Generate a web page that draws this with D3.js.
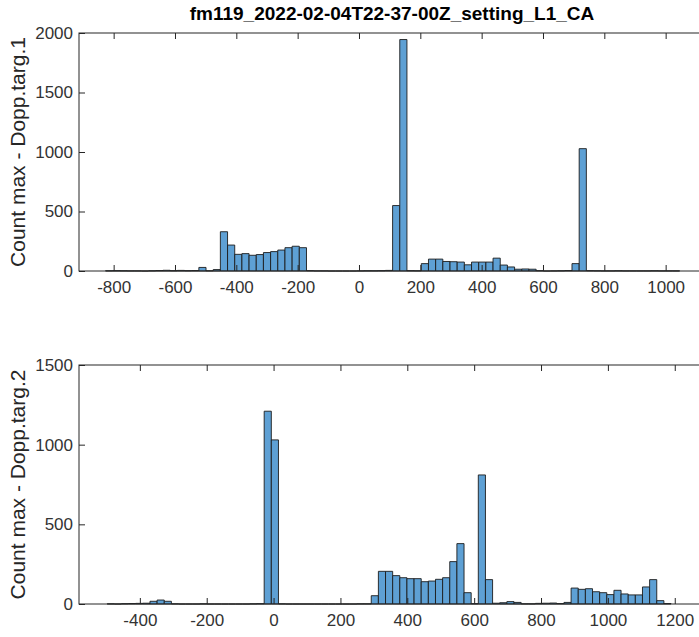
<!DOCTYPE html>
<html>
<head>
<meta charset="utf-8">
<script src="https://cdn.jsdelivr.net/npm/d3@7"></script>
<style>
  body { margin: 0; background: #fff; }
  svg { display: block; font-family: "Liberation Sans", Arial, Helvetica, sans-serif; }
</style>
</head>
<body>
<div id="chart"></div>
<script>
// histogram 1 : bins start + width, counts
const binStart1 = -826.4;
const binWidth1 = 23.4;
const counts1 = [
  2, 3, 2, 1, 1, 0, 2, 4, 6, 3, 5, 3, 4, 30, 2, 12,
  330, 218, 140, 146, 132, 138, 155, 163, 176, 196, 208, 196,
  3, 1, 1, 0, 0, 0, 0, 1, 2, 2, 3, 5,
  550, 1945, 3, 2,
  62, 100, 100, 80, 78, 75, 52, 75, 75, 75, 108, 50, 34, 15, 17, 15,
  3, 0, 1, 2, 4,
  62, 1028, 3,
  2, 1, 1, 2, 1, 1, 1, 1, 2, 1, 1, 1
];
const xTicks1 = [-800, -600, -400, -200, 0, 200, 400, 600, 800, 1000];
const yTicks1 = [0, 500, 1000, 1500, 2000];

// histogram 2
const binStart2 = -497.8;
const binWidth2 = 21.35;
const counts2 = [
  1, 0, 2,
  3, 4, 5, 17, 25, 17,
  1, 0, 0, 0, 1, 0, 0, 0, 0, 0, 0, 1, 2,
  1210, 1030,
  1, 0, 0, 0, 0, 0, 0, 0, 0, 0, 0, 1, 1,
  52, 205, 205, 178, 165, 159, 159, 140, 144, 155, 165, 266, 379, 71, 2, 810, 153,
  5, 8, 15, 10, 1, 1, 4, 5, 6, 3, 10,
  100, 92, 96, 77, 71, 59, 86, 63, 57, 57, 107, 153, 21, 3
];
const xTicks2 = [-400, -200, 0, 200, 400, 600, 800, 1000, 1200];
const yTicks2 = [0, 500, 1000, 1500];

const titleText = "fm119_2022-02-04T22-37-00Z_setting_L1_CA";
const yLabel1 = "Count max - Dopp.targ.1";
const yLabel2 = "Count max - Dopp.targ.2";

const W = 699, H = 637;
const axisColor = "#262626";
const barFill = "rgb(94,160,212)";

const svg = d3.select("#chart").append("svg")
  .attr("width", W).attr("height", H);

svg.append("text")
  .attr("x", 392).attr("y", 20)
  .attr("text-anchor", "middle")
  .attr("font-weight", "bold")
  .attr("font-size", "19px")
  .attr("fill", "#000")
  .text(titleText);

function drawPanel(cfg){
  const g = svg.append("g");
  const x = d3.scaleLinear().domain(cfg.xDomain).range([cfg.left, cfg.right]);
  const y = d3.scaleLinear().domain(cfg.yDomain).range([cfg.bottom, cfg.top]);

  const bins = cfg.counts.map((c, i) => ({
    x0: cfg.binStart + i * cfg.binWidth,
    x1: cfg.binStart + (i + 1) * cfg.binWidth,
    count: c
  }));

  g.selectAll("path.bar")
    .data(bins)
    .enter()
    .append("path")
      .attr("class", "bar")
      .attr("d", d => {
        const a = x(d.x0), b = x(d.x1), y0 = y(0), y1 = y(d.count);
        return "M" + a + "," + y0 + "V" + y1 + "H" + b + "V" + y0 + "Z";
      })
      .attr("fill", barFill)
      .attr("stroke", "#1c1c1c")
      .attr("stroke-width", 0.9);

  // box
  g.append("rect")
    .attr("x", cfg.left).attr("y", cfg.top)
    .attr("width", cfg.right - cfg.left).attr("height", cfg.bottom - cfg.top)
    .attr("fill", "none")
    .attr("stroke", axisColor)
    .attr("stroke-width", 1);

  const fmt = d => String(d);
  const xb = g.append("g")
    .attr("transform", "translate(0," + cfg.bottom + ")")
    .call(d3.axisBottom(x).tickValues(cfg.xTicks).tickSize(-6).tickPadding(10).tickFormat(fmt));
  const xt = g.append("g")
    .attr("transform", "translate(0," + cfg.top + ")")
    .call(d3.axisTop(x).tickValues(cfg.xTicks).tickSize(-6).tickFormat(""));
  const yl = g.append("g")
    .attr("transform", "translate(" + cfg.left + ",0)")
    .call(d3.axisLeft(y).tickValues(cfg.yTicks).tickSize(-6).tickPadding(6).tickFormat(fmt));

  [xb, xt, yl].forEach(a => {
    a.select(".domain").remove();
    a.selectAll("line").attr("stroke", axisColor);
    a.selectAll("text")
      .attr("fill", "#333")
      .attr("font-size", "17px")
      .attr("font-family", "'Liberation Sans', Arial, Helvetica, sans-serif");
  });

  g.append("text")
    .attr("transform", "translate(25," + (cfg.top + cfg.bottom) / 2 + ") rotate(-90)")
    .attr("text-anchor", "middle")
    .attr("font-size", "21px")
    .attr("fill", "#262626")
    .text(cfg.label);
}

drawPanel({
  left: 79, right: 700, top: 33, bottom: 271,
  xDomain: [-913, 1112], yDomain: [0, 2000],
  binStart: binStart1, binWidth: binWidth1, counts: counts1,
  xTicks: xTicks1, yTicks: yTicks1, label: yLabel1
});

drawPanel({
  left: 79, right: 700, top: 365, bottom: 604,
  xDomain: [-582, 1275.5], yDomain: [0, 1500],
  binStart: binStart2, binWidth: binWidth2, counts: counts2,
  xTicks: xTicks2, yTicks: yTicks2, label: yLabel2
});
</script>
</body>
</html>
